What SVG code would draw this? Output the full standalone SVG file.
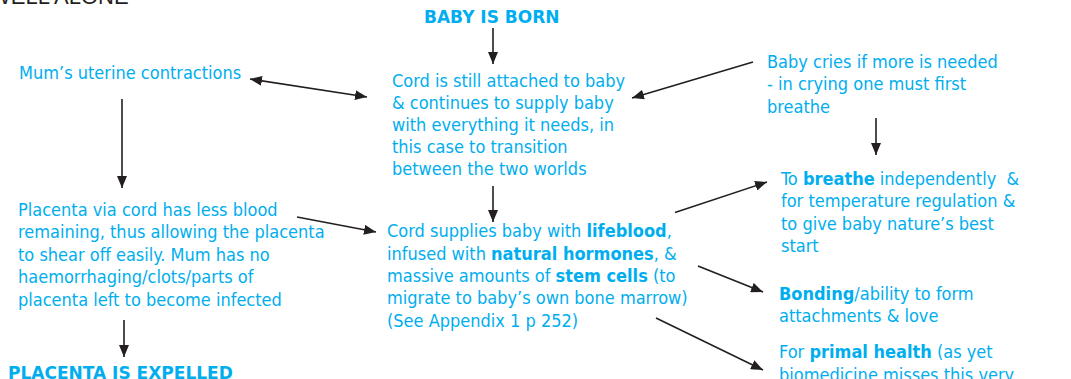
<svg xmlns="http://www.w3.org/2000/svg" width="1071" height="379" viewBox="0 0 1071 379">
<style>
text{font-family:"DejaVu Sans Condensed","DejaVu Sans",sans-serif;font-size:18px;fill:#00aeef}
.b{font-weight:bold}
.hd{font-family:"DejaVu Sans",sans-serif;font-weight:bold;font-size:17px}
.blk{fill:#231f20;font-family:"Liberation Sans",Arial,sans-serif;font-size:22px}
.c line{stroke:#231f20;stroke-width:1.6;marker-end:url(#ah)}
</style>
<defs>
<marker id="ah" markerUnits="userSpaceOnUse" markerWidth="12" markerHeight="10" refX="12" refY="5" orient="auto-start-reverse">
<path d="M0,0 L12,5 L0,10 z" fill="#231f20"/>
</marker>
</defs>
<text class="blk" x="-10" y="3.5">WELL ALONE</text>
<g id="born"><text class="hd" x="424" y="23">BABY IS BORN</text></g>
<g id="mum"><text x="19" y="79">Mum’s uterine contractions</text></g>
<g id="cord1"><text>
<tspan x="392" y="87">Cord is still attached to baby</tspan>
<tspan x="392" y="109">&amp; continues to supply baby</tspan>
<tspan x="392" y="131">with everything it needs, in</tspan>
<tspan x="392" y="153">this case to transition</tspan>
<tspan x="392" y="175">between the two worlds</tspan>
</text></g>
<g id="cries"><text>
<tspan x="767" y="68">Baby cries if more is needed</tspan>
<tspan x="767" y="90">- in crying one must first</tspan>
<tspan x="767" y="112.5">breathe</tspan>
</text></g>
<g id="breathe"><text xml:space="preserve"><tspan x="781" y="185">To <tspan class="b">breathe</tspan> independently  &amp;</tspan><tspan x="781" y="207.3">for temperature regulation &amp;</tspan><tspan x="781" y="229.5">to give baby nature’s best</tspan><tspan x="781" y="251.7">start</tspan></text></g>
<g id="placenta"><text>
<tspan x="18" y="216">Placenta via cord has less blood</tspan>
<tspan x="18" y="238.3">remaining, thus allowing the placenta</tspan>
<tspan x="18" y="261">to shear off easily. Mum has no</tspan>
<tspan x="18" y="283.3">haemorrhaging/clots/parts of</tspan>
<tspan x="18" y="306">placenta left to become infected</tspan>
</text></g>
<g id="expelled"><text class="hd" x="8" y="378.5">PLACENTA IS EXPELLED</text></g>
<g id="cord2"><text><tspan x="387" y="237.3">Cord supplies baby with <tspan class="b">lifeblood</tspan>,</tspan><tspan x="387" y="259.5">infused with <tspan class="b">natural hormones</tspan>, &amp;</tspan><tspan x="387" y="281.7">massive amounts of <tspan class="b">stem cells</tspan> (to</tspan><tspan x="387" y="304">migrate to baby’s own bone marrow)</tspan><tspan x="387" y="326.5">(See Appendix 1 p 252)</tspan></text></g>
<g id="bonding"><text><tspan x="779" y="300"><tspan class="b">Bonding</tspan>/ability to form</tspan><tspan x="779" y="321.7">attachments &amp; love</tspan></text></g>
<g id="primal"><text><tspan x="779" y="358.3">For <tspan class="b">primal health</tspan> (as yet</tspan><tspan x="779" y="381">biomedicine misses this very</tspan></text></g>
<g id="connectors" class="c">
<line x1="493" y1="28" x2="493" y2="64"/>
<line x1="250" y1="79" x2="367" y2="97" style="marker-start:url(#ah)"/>
<line x1="753" y1="62" x2="632" y2="98"/>
<line x1="876" y1="118" x2="876" y2="155"/>
<line x1="675" y1="212.5" x2="767" y2="182"/>
<line x1="122" y1="99" x2="122" y2="188"/>
<line x1="124" y1="320" x2="124" y2="357"/>
<line x1="297" y1="217" x2="376" y2="232"/>
<line x1="493" y1="186" x2="493" y2="222"/>
<line x1="698" y1="266" x2="763" y2="292"/>
<line x1="656" y1="318" x2="763" y2="370"/>
</g>
</svg>
